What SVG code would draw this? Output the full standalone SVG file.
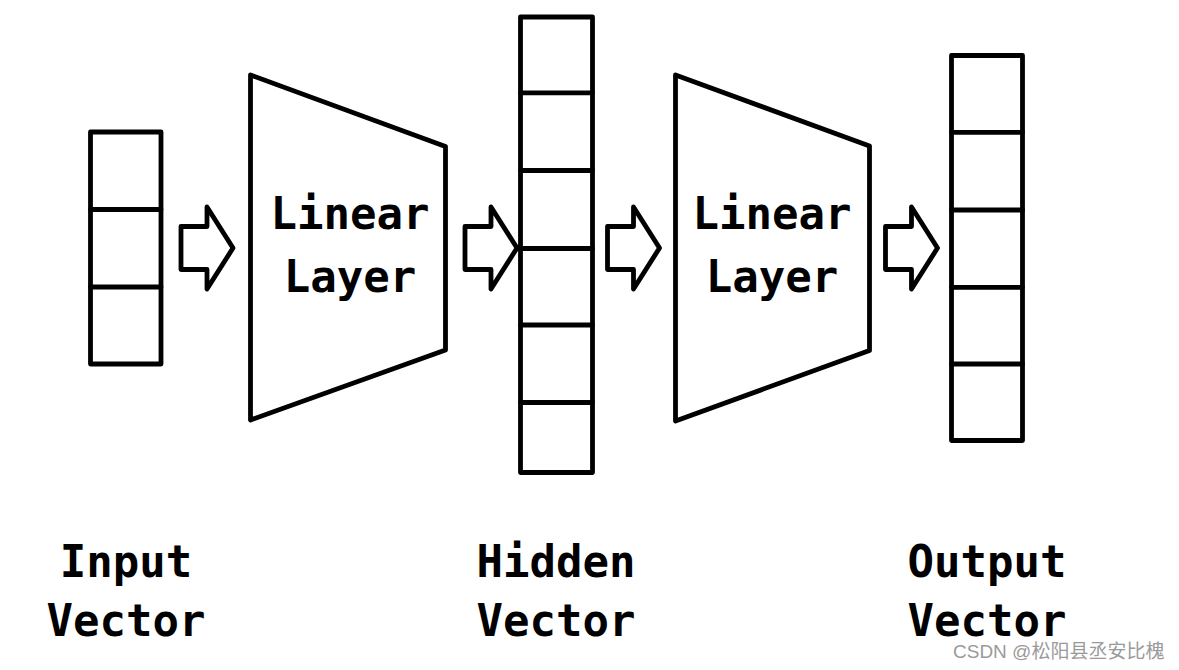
<svg xmlns="http://www.w3.org/2000/svg" width="1179" height="670" viewBox="0 0 1179 670">
<style>
.s{fill:none;stroke:#000;stroke-width:4.8;stroke-linejoin:round;stroke-linecap:round}
.f{fill:#fff;stroke:#000;stroke-width:4.8;stroke-linejoin:round;stroke-linecap:round}
.t{font-family:"DejaVu Sans Mono","Liberation Mono",monospace;font-weight:bold;font-size:44px;fill:#000;text-anchor:middle}
.w{font-family:"Liberation Sans","Noto Sans CJK SC",sans-serif;font-size:19px;fill:#9a9a9a}
</style>
<defs>
<path id="arr" d="M0,226.5 H26 V207 L52,248 L26,289 V269.5 H0 Z"/>
</defs>
<rect width="1179" height="670" fill="#fff"/>
<g id="input-vector">
<rect class="f" x="90.5" y="132" width="70.5" height="232"/>
<path class="s" d="M90.5,209.5 H161 M90.5,287 H161"/>
</g>
<g id="linear-layer-1">
<polygon class="f" points="250.5,75 445.5,146.5 445.5,350 250.5,420"/>
<text class="t" x="350" y="228.5">Linear</text>
<text class="t" x="350" y="291.5">Layer</text>
</g>
<g id="hidden-vector">
<rect class="f" x="520.5" y="17" width="72" height="455.5"/>
<path class="s" d="M520.5,92.8 H592.5 M520.5,170.5 H592.5 M520.5,248.5 H592.5 M520.5,325 H592.5 M520.5,402.5 H592.5"/>
</g>
<g id="linear-layer-2">
<polygon class="f" points="675.5,75 869.5,146 869.5,350.5 675.5,421"/>
<text class="t" x="772" y="228.5">Linear</text>
<text class="t" x="772" y="291.5">Layer</text>
</g>
<g id="output-vector">
<rect class="f" x="951.5" y="55.5" width="71" height="385"/>
<path class="s" d="M951.5,132.3 H1022.5 M951.5,210 H1022.5 M951.5,287.3 H1022.5 M951.5,364 H1022.5"/>
</g>
<g id="connectors">
<use href="#arr" class="f" transform="translate(181,0)"/>
<use href="#arr" class="f" transform="translate(465,0)"/>
<use href="#arr" class="f" transform="translate(607.5,0)"/>
<use href="#arr" class="f" transform="translate(885.5,0)"/>
</g>
<g id="labels">
<text class="t" x="126" y="577">Input</text>
<text class="t" x="126" y="636">Vector</text>
<text class="t" x="556" y="577">Hidden</text>
<text class="t" x="556" y="636">Vector</text>
<text class="t" x="987" y="577">Output</text>
<text class="t" x="987" y="636">Vector</text>
</g>
<text class="w" x="953" y="658">CSDN @松阳县丞安比槐</text>
</svg>
